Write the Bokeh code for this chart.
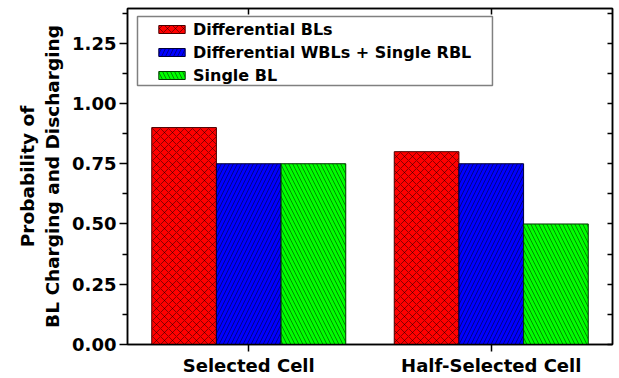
from bokeh.plotting import figure
from bokeh.models import (FactorRange, Range1d, FixedTicker, LinearAxis,
                          Legend, LegendItem, BoxAnnotation, ColumnDataSource)
from bokeh.transform import dodge
from bokeh.embed import file_html
from bokeh.resources import INLINE

# Chart data
cells = ["Selected Cell", "Half-Selected Cell"]
series_names = ["Differential BLs", "Differential WBLs + Single RBL", "Single BL"]
differential_bls = [0.90, 0.80]
differential_wbls_single_rbl = [0.75, 0.75]
single_bl = [0.75, 0.50]
y_ticks = [0.0, 0.25, 0.50, 0.75, 1.00, 1.25]
y_tick_labels = ["0.00", "0.25", "0.50", "0.75", "1.00", "1.25"]
y_minor_ticks = [0.125, 0.375, 0.625, 0.875, 1.125, 1.375]

FONT = "DejaVu Sans"
Y_MAX = 1.394

source = ColumnDataSource(dict(
    cells=cells,
    diff=differential_bls,
    wbl=differential_wbls_single_rbl,
    single=single_bl,
))

p = figure(
    x_range=FactorRange(factors=cells, range_padding=0),
    y_range=Range1d(0, Y_MAX),
    width=619, height=378,
    output_backend="svg", toolbar_location=None,
    min_border_left=127, min_border_right=7, min_border_top=8, min_border_bottom=34,
)
p.xgrid.visible = False
p.ygrid.visible = False
p.outline_line_color = "black"
p.outline_line_width = 1.5

bw = 0.8 / 3
styles = [
    ("diff", -bw, "#ff0000", "#4a0000", "diagonal_cross"),
    ("wbl", 0.0, "#0000ff", "#00003a", "right_diagonal_line"),
    ("single", bw, "#00ff00", "#003a00", "left_diagonal_line"),
]
renderers = []
for col, off, fill, edge, hatch in styles:
    r = p.vbar(
        x=dodge("cells", off, range=p.x_range), top=col, width=bw, source=source,
        fill_color=fill, line_color=edge, line_width=1,
        hatch_pattern=hatch, hatch_color="#000000", hatch_alpha=0.45,
        hatch_scale=8, hatch_weight=1,
    )
    renderers.append(r)

ticker = FixedTicker(ticks=y_ticks, minor_ticks=y_minor_ticks)

# left axis
ya = p.yaxis[0]
ya.ticker = ticker
ya.major_label_overrides = dict(zip(y_ticks, y_tick_labels))
ya.major_tick_out = 8
ya.major_tick_in = 0
ya.minor_tick_out = 5
ya.minor_tick_in = 0
ya.axis_line_width = 1.5
ya.major_tick_line_width = 1.5
ya.minor_tick_line_width = 1.5
ya.major_label_standoff = 3
ya.major_label_text_font = FONT
ya.major_label_text_font_style = "bold"
ya.major_label_text_font_size = "18px"
ya.major_label_text_color = "black"
ya.axis_label = "Probability of\nBL Charging and Discharging"
ya.axis_label_text_font = FONT
ya.axis_label_text_font_style = "bold"
ya.axis_label_text_font_size = "18.5px"
ya.axis_label_text_color = "black"
ya.axis_label_standoff = 6

# bottom axis
xa = p.xaxis[0]
xa.major_tick_out = 7
xa.major_tick_in = 0
xa.axis_line_width = 1.5
xa.major_tick_line_width = 1.5
xa.major_label_standoff = 3
xa.major_label_text_font = FONT
xa.major_label_text_font_style = "bold"
xa.major_label_text_font_size = "18px"
xa.major_label_text_color = "black"

# mirrored axes: unlabeled, ticks pointing into the frame
right = LinearAxis(ticker=FixedTicker(ticks=[], minor_ticks=sorted(y_ticks + y_minor_ticks)),
                   minor_tick_in=5, minor_tick_out=0,
                   axis_line_width=1.5, minor_tick_line_width=1.5)
p.add_layout(right, "right")

# top ticks sit at the category centres (synthetic coordinates i + 0.5)
top = LinearAxis(ticker=FixedTicker(ticks=[], minor_ticks=[i + 0.5 for i in range(len(cells))]),
                 minor_tick_in=6, minor_tick_out=0,
                 axis_line_width=1.5, minor_tick_line_width=1.5)
p.add_layout(top, "above")

# legend
legend = Legend(
    items=[LegendItem(label=n, renderers=[r]) for n, r in zip(series_names, renderers)],
    location=(28, 259), padding=0, margin=0, spacing=3,
    glyph_width=33, glyph_height=10, label_height=20, label_standoff=5,
    border_line_alpha=0, background_fill_alpha=0,
    label_text_font=FONT, label_text_font_style="bold", label_text_font_size="16px",
    label_text_color="black",
)
p.add_layout(legend)
p.add_layout(BoxAnnotation(left=0.0412, right=1.505, top=1.361, bottom=1.075,
                           fill_alpha=0, line_color="#808080", line_width=1.5,
                           line_alpha=1.0))

open("out.html", "w").write(file_html(p, INLINE))
